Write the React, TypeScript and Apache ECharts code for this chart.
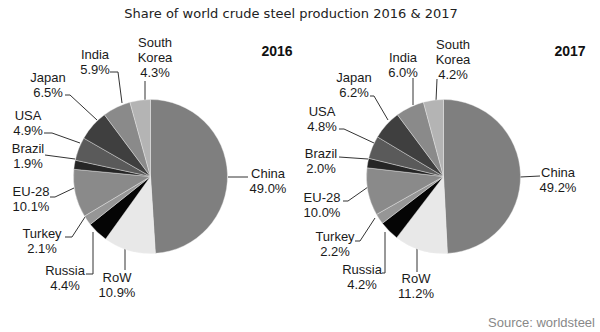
import React, { useEffect, useRef } from "react";
import * as echarts from "echarts";

// ---- data ----
const categories = ["China", "RoW", "Russia", "Turkey", "EU-28", "Brazil", "USA", "Japan", "India", "South Korea"];
const share2016 = [49.0, 10.9, 4.4, 2.1, 10.1, 1.9, 4.9, 6.5, 5.9, 4.3];
const share2017 = [49.2, 11.2, 4.2, 2.2, 10.0, 2.0, 4.8, 6.2, 6.0, 4.2];
const years = ["2016", "2017"];
const titleText = "Share of world crude steel production 2016 & 2017";
const sourceText = "Source: worldsteel";

// ---- styling / layout ----
const sliceColors: Record<string, string> = {
  China: "#7f7f7f",
  RoW: "#e8e8e8",
  Russia: "#050505",
  Turkey: "#969696",
  "EU-28": "#8a8a8a",
  Brazil: "#262626",
  USA: "#5a5a5a",
  Japan: "#3f3f3f",
  India: "#8a8a8a",
  "South Korea": "#b4b4b4",
};

type LabelPos = { x: number; y: number; line: number[][] };

const labelLayout2016: Record<string, LabelPos> = {
  China: { x: 268, y: 180.5, line: [[248, 177], [228, 177]] },
  RoW: { x: 117, y: 284.5, line: [[125, 270], [125, 248]] },
  Russia: { x: 65, y: 278, line: [[86, 274], [93, 274], [93, 232]] },
  Turkey: { x: 42, y: 240.5, line: [[65, 237], [72, 237], [85, 217]] },
  "EU-28": { x: 31, y: 199, line: [[50, 197], [55, 197], [74, 188]] },
  Brazil: { x: 28, y: 156, line: [[45, 155], [75, 159]] },
  USA: { x: 28, y: 122.5, line: [[44, 133], [52, 133], [80, 143]] },
  Japan: { x: 48, y: 85, line: [[65, 95], [70, 95], [97, 120]] },
  India: { x: 95, y: 61.5, line: [[110, 72], [118, 72], [122, 103]] },
  "South Korea": { x: 155, y: 57.5, line: [[145, 81], [145, 100]] },
};

const labelLayout2017: Record<string, LabelPos> = {
  China: { x: 558, y: 179.5, line: [[540, 176], [520, 177]] },
  RoW: { x: 416, y: 285.5, line: [[417, 272], [417, 248]] },
  Russia: { x: 362, y: 277, line: [[382, 273], [385, 273], [385, 232]] },
  Turkey: { x: 335, y: 244, line: [[355, 241], [360, 241], [375, 218]] },
  "EU-28": { x: 322, y: 205, line: [[343, 201], [348, 201], [368, 187]] },
  Brazil: { x: 321, y: 160.5, line: [[339, 157], [368, 159]] },
  USA: { x: 322, y: 118.5, line: [[339, 129], [344, 129], [374, 143]] },
  Japan: { x: 354, y: 85, line: [[370, 96], [374, 96], [388, 120]] },
  India: { x: 403, y: 65, line: [[413, 78], [413, 105]] },
  "South Korea": { x: 453, y: 59, line: [[437, 79], [436, 101]] },
};

const pieCenters = [
  [150.5, 176.5],
  [443.5, 176.5],
];
const pieRadius = 77;
const labelLayouts = [labelLayout2016, labelLayout2017];

const FONT = "'Liberation Sans', Arial, sans-serif";

export default function App() {
  const ref = useRef<HTMLDivElement>(null);

  useEffect(() => {
    if (!ref.current) return;
    const chart = echarts.init(ref.current, null, { renderer: "svg" });

    const makeSeries = (values: number[], idx: number) => ({
      type: "pie",
      name: years[idx],
      center: pieCenters[idx],
      radius: pieRadius,
      startAngle: 90,
      clockwise: true,
      avoidLabelOverlap: false,
      silent: true,
      itemStyle: { borderColor: "#eeeeee", borderWidth: 0.4 },
      label: {
        show: true,
        position: "outside",
        fontFamily: FONT,
        fontSize: 13,
        lineHeight: 15,
        color: "#1a1a1a",
        align: "center",
        formatter: (p: any) => `${String(p.name).replace(" ", "\n")}\n${Number(p.value).toFixed(1)}%`,
      },
      labelLine: {
        show: true,
        length: 5,
        length2: 5,
        lineStyle: { color: "#333333", width: 1 },
      },
      labelLayout: (params: any) => {
        const name = categories[params.dataIndex];
        const L = labelLayouts[idx][name];
        return {
          x: L.x,
          y: L.y,
          align: "center",
          verticalAlign: "middle",
          labelLinePoints: L.line,
        };
      },
      data: categories.map((c, i) => ({
        name: c,
        value: values[i],
        itemStyle: { color: sliceColors[c] },
      })),
    });

    chart.setOption({
      animation: false,
      backgroundColor: "#ffffff",
      series: [makeSeries(share2016, 0), makeSeries(share2017, 1)],
      graphic: [
        {
          type: "text",
          x: 291,
          y: 13.5,
          style: {
            text: titleText,
            fontFamily: "'DejaVu Sans', Verdana, sans-serif",
            fontSize: 13,
            fill: "#222222",
            align: "center",
            verticalAlign: "middle",
          },
        },
        {
          type: "text",
          x: 277,
          y: 51,
          style: {
            text: years[0],
            fontFamily: FONT,
            fontWeight: "bold",
            fontSize: 14,
            fill: "#111111",
            align: "center",
            verticalAlign: "middle",
          },
        },
        {
          type: "text",
          x: 570,
          y: 51,
          style: {
            text: years[1],
            fontFamily: FONT,
            fontWeight: "bold",
            fontSize: 14,
            fill: "#111111",
            align: "center",
            verticalAlign: "middle",
          },
        },
        {
          type: "text",
          x: 595,
          y: 322,
          style: {
            text: sourceText,
            fontFamily: FONT,
            fontSize: 13,
            fill: "#888888",
            align: "right",
            verticalAlign: "middle",
          },
        },
      ],
    });

    return () => chart.dispose();
  }, []);

  return (
    <div
      ref={ref}
      style={{ position: "fixed", left: 0, top: 0, width: 600, height: 332 }}
    />
  );
}
